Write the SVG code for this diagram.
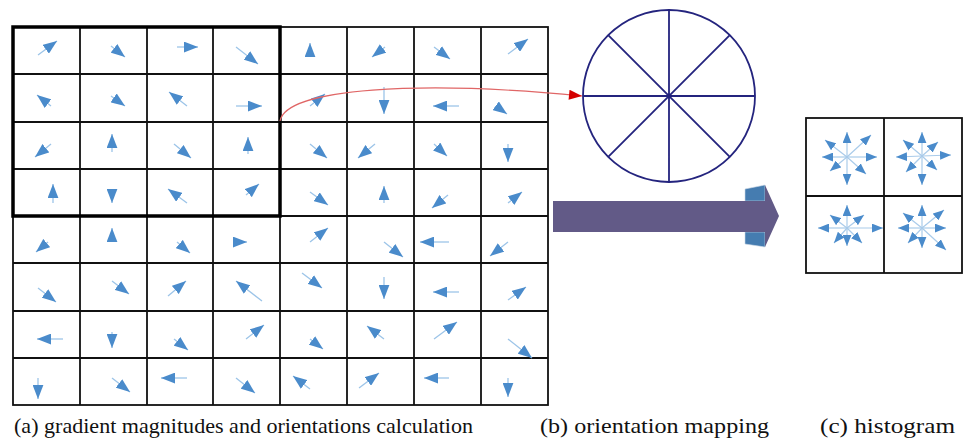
<svg xmlns="http://www.w3.org/2000/svg" width="964" height="440" viewBox="0 0 964 440">
<style>
.g{stroke:#111;stroke-width:1.8;fill:none}
.a{stroke:#9cc4e8;stroke-width:1.3;fill:none;marker-end:url(#ah)}
.h{stroke:#a9cbea;stroke-width:1.2;fill:none;marker-end:url(#ah2)}
.wheel{stroke:#24247e;stroke-width:1.8;fill:none}
</style>
<defs>
<marker id="ah" markerUnits="userSpaceOnUse" markerWidth="14" markerHeight="11" refX="13" refY="5" orient="auto" viewBox="0 0 13 10"><path d="M0,0 L13,5 L0,10 z" fill="#4a8bcb"/></marker>
<marker id="ah2" markerUnits="userSpaceOnUse" markerWidth="11" markerHeight="9" refX="10" refY="4" orient="auto" viewBox="0 0 10 8"><path d="M0,0 L10,4 L0,8 z" fill="#4a8bcb"/></marker>
<marker id="rh" markerUnits="userSpaceOnUse" markerWidth="14" markerHeight="10" refX="13" refY="5" orient="auto" viewBox="0 0 13 10"><path d="M0,0 L13,5 L0,10 z" fill="#d40000"/></marker>
</defs>

<g id="grid">
<rect class="g" x="13" y="27" width="535" height="378"/>
<path class="g" d="M80,27V405M147,27V405M213,27V405M280,27V405M347,27V405M414,27V405M481,27V405M13,74H548M13,122H548M13,169H548M13,216H548M13,263H548M13,311H548M13,358H548"/>
<rect x="13" y="27" width="267" height="189" fill="none" stroke="#000" stroke-width="3.5"/>
</g>

<g id="gradients">
<line class="a" x1="38" y1="55" x2="57" y2="41"/>
<line class="a" x1="111" y1="46" x2="125" y2="57"/>
<line class="a" x1="177" y1="47" x2="198" y2="47"/>
<line class="a" x1="236" y1="47" x2="258" y2="64"/>
<line class="a" x1="310" y1="57" x2="310" y2="43"/>
<line class="a" x1="385" y1="47" x2="372" y2="57"/>
<line class="a" x1="434" y1="47" x2="450" y2="59"/>
<line class="a" x1="508" y1="54" x2="528" y2="39"/>

<line class="a" x1="51" y1="106" x2="37" y2="95"/>
<line class="a" x1="111" y1="96" x2="125" y2="106"/>
<line class="a" x1="187" y1="106" x2="169" y2="92"/>
<line class="a" x1="236" y1="106" x2="262" y2="106"/>
<line class="a" x1="310" y1="106" x2="325" y2="94"/>
<line class="a" x1="384" y1="87" x2="384" y2="114"/>
<line class="a" x1="459" y1="106" x2="433" y2="106"/>
<line class="a" x1="496" y1="106" x2="507" y2="114"/>

<line class="a" x1="51" y1="144" x2="35" y2="157"/>
<line class="a" x1="112" y1="152" x2="112" y2="134"/>
<line class="a" x1="174" y1="144" x2="191" y2="158"/>
<line class="a" x1="248" y1="154" x2="248" y2="137"/>
<line class="a" x1="310" y1="144" x2="327" y2="158"/>
<line class="a" x1="375" y1="144" x2="358" y2="158"/>
<line class="a" x1="434" y1="144" x2="447" y2="156"/>
<line class="a" x1="508" y1="144" x2="508" y2="162"/>

<line class="a" x1="53" y1="203" x2="53" y2="184"/>
<line class="a" x1="112" y1="190" x2="112" y2="203"/>
<line class="a" x1="187" y1="203" x2="168" y2="189"/>
<line class="a" x1="246" y1="195" x2="259" y2="184"/>
<line class="a" x1="310" y1="192" x2="328" y2="205"/>
<line class="a" x1="384" y1="203" x2="384" y2="186"/>
<line class="a" x1="448" y1="195" x2="432" y2="208"/>
<line class="a" x1="508" y1="203" x2="522" y2="192"/>

<line class="a" x1="48" y1="242" x2="36" y2="252"/>
<line class="a" x1="112" y1="241" x2="112" y2="228"/>
<line class="a" x1="177" y1="242" x2="190" y2="253"/>
<line class="a" x1="234" y1="242" x2="247" y2="242"/>
<line class="a" x1="310" y1="242" x2="328" y2="228"/>
<line class="a" x1="384" y1="242" x2="403" y2="257"/>
<line class="a" x1="449" y1="242" x2="420" y2="242"/>
<line class="a" x1="508" y1="242" x2="490" y2="256"/>

<line class="a" x1="38" y1="288" x2="56" y2="302"/>
<line class="a" x1="112" y1="281" x2="129" y2="294"/>
<line class="a" x1="168" y1="296" x2="186" y2="281"/>
<line class="a" x1="262" y1="301" x2="236" y2="281"/>
<line class="a" x1="302" y1="273" x2="322" y2="288"/>
<line class="a" x1="384" y1="277" x2="384" y2="299"/>
<line class="a" x1="459" y1="292" x2="433" y2="292"/>
<line class="a" x1="508" y1="300" x2="526" y2="287"/>

<line class="a" x1="63" y1="339" x2="37" y2="339"/>
<line class="a" x1="112" y1="332" x2="112" y2="348"/>
<line class="a" x1="174" y1="339" x2="188" y2="350"/>
<line class="a" x1="246" y1="339" x2="264" y2="325"/>
<line class="a" x1="310" y1="339" x2="323" y2="349"/>
<line class="a" x1="384" y1="339" x2="367" y2="326"/>
<line class="a" x1="434" y1="339" x2="457" y2="322"/>
<line class="a" x1="508" y1="339" x2="532" y2="358"/>

<line class="a" x1="38" y1="378" x2="38" y2="399"/>
<line class="a" x1="112" y1="378" x2="130" y2="392"/>
<line class="a" x1="187" y1="378" x2="161" y2="378"/>
<line class="a" x1="236" y1="378" x2="255" y2="393"/>
<line class="a" x1="310" y1="389" x2="293" y2="376"/>
<line class="a" x1="359" y1="388" x2="379" y2="373"/>
<line class="a" x1="449" y1="378" x2="424" y2="378"/>
<line class="a" x1="508" y1="378" x2="508" y2="397"/>
</g>

<g id="connectors">
<path d="M280,121 C286,88 420,80 582,96" fill="none" stroke="#e06666" stroke-width="1.2" marker-end="url(#rh)"/>
</g>

<g id="orientation-wheel">
<circle class="wheel" cx="669" cy="96" r="86"/>
<path class="wheel" d="M583,96H755M669,10V182M608.2,35.2L729.8,156.8M729.8,35.2L608.2,156.8"/>
<circle cx="669" cy="96" r="2.2" fill="#24247e"/>
</g>

<g id="big-arrow">
<polygon points="745,189 765,185 765,201 745,201" fill="#457cb0" stroke="#c9d6e6" stroke-width="0.6"/>
<polygon points="745,232 765,232 765,247 745,244" fill="#457cb0" stroke="#c9d6e6" stroke-width="0.6"/>
<polygon points="553,201 765,201 765,185 779,216 765,247 765,232 553,232" fill="#625a87"/>
</g>

<g id="histogram">
<rect class="g" x="806" y="118" width="156" height="155" stroke-width="2.2"/>
<path class="g" d="M884,118V273M806,196H962" stroke-width="2.2"/>
<g id="hist-tl">
<line class="h" x1="847" y1="157" x2="847" y2="132"/>
<line class="h" x1="847" y1="157" x2="847" y2="185"/>
<line class="h" x1="847" y1="157" x2="822" y2="157"/>
<line class="h" x1="847" y1="157" x2="877" y2="157"/>
<line class="h" x1="847" y1="157" x2="825" y2="140"/>
<line class="h" x1="847" y1="157" x2="871" y2="135"/>
<line class="h" x1="847" y1="157" x2="830" y2="171"/>
<line class="h" x1="847" y1="157" x2="866" y2="174"/>
</g>
<g id="hist-tr">
<line class="h" x1="922" y1="156" x2="922" y2="132"/>
<line class="h" x1="922" y1="156" x2="922" y2="185"/>
<line class="h" x1="922" y1="156" x2="896" y2="157"/>
<line class="h" x1="922" y1="156" x2="951" y2="155"/>
<line class="h" x1="922" y1="156" x2="903" y2="140"/>
<line class="h" x1="922" y1="156" x2="938" y2="142"/>
<line class="h" x1="922" y1="156" x2="906" y2="172"/>
<line class="h" x1="922" y1="156" x2="937" y2="170"/>
</g>
<g id="hist-bl">
<line class="h" x1="847" y1="228" x2="847" y2="205"/>
<line class="h" x1="847" y1="228" x2="847" y2="246"/>
<line class="h" x1="847" y1="228" x2="818" y2="228"/>
<line class="h" x1="847" y1="228" x2="883" y2="228"/>
<line class="h" x1="847" y1="228" x2="830" y2="215"/>
<line class="h" x1="847" y1="228" x2="864" y2="215"/>
<line class="h" x1="847" y1="228" x2="834" y2="243"/>
<line class="h" x1="847" y1="228" x2="862" y2="243"/>
</g>
<g id="hist-br">
<line class="h" x1="922" y1="228" x2="922" y2="205"/>
<line class="h" x1="922" y1="228" x2="922" y2="248"/>
<line class="h" x1="922" y1="228" x2="898" y2="228"/>
<line class="h" x1="922" y1="228" x2="946" y2="228"/>
<line class="h" x1="922" y1="228" x2="903" y2="213"/>
<line class="h" x1="922" y1="228" x2="944" y2="210"/>
<line class="h" x1="922" y1="228" x2="908" y2="243"/>
<line class="h" x1="922" y1="228" x2="946" y2="250"/>
</g>
</g>

<g id="labels" fill="#111" font-size="22">
<text x="14" y="433" font-family="Times New Roman, Liberation Serif, DejaVu Serif, serif" textLength="459" lengthAdjust="spacingAndGlyphs">(a) gradient magnitudes and orientations calculation</text>
<text x="540" y="433" font-family="Times New Roman, Liberation Serif, DejaVu Serif, serif" textLength="229" lengthAdjust="spacingAndGlyphs">(b) orientation mapping</text>
<text x="820" y="433" font-family="Times New Roman, Liberation Serif, DejaVu Serif, serif" textLength="135" lengthAdjust="spacingAndGlyphs">(c) histogram</text>
</g>
</svg>
